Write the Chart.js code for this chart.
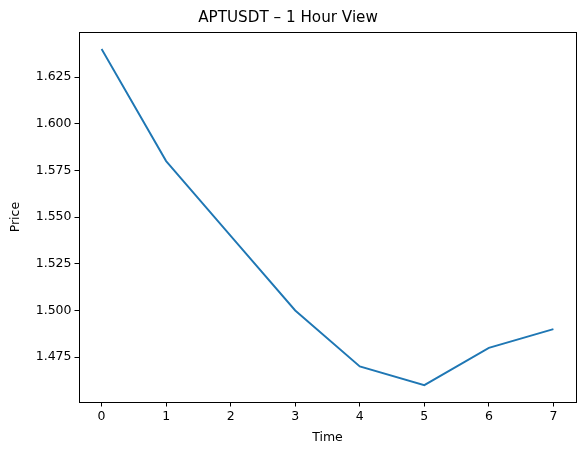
<!DOCTYPE html>
<html>
<head>
<meta charset="utf-8">
<script src="https://cdn.jsdelivr.net/npm/chart.js@4"></script>
<style>
  html, body { margin: 0; padding: 0; background: #fff; }
  #wrap { width: 584px; height: 455px; }
</style>
</head>
<body>
<div id="wrap"><canvas id="priceChart"></canvas></div>
<script>
// data
const timeSteps = [0, 1, 2, 3, 4, 5, 6, 7];
const prices = [1.64, 1.58, 1.54, 1.50, 1.47, 1.46, 1.48, 1.49];
const priceTicks = [1.475, 1.500, 1.525, 1.550, 1.575, 1.600, 1.625];
const timeTicks = [0, 1, 2, 3, 4, 5, 6, 7];

const FONT = 'DejaVu Sans';

// full black frame around the plot area
const frameBox = {
    id: 'frameBox',
    afterDraw(chart) {
        const a = chart.chartArea, ctx = chart.ctx;
        ctx.save();
        ctx.strokeStyle = '#000';
        ctx.lineWidth = 1;
        ctx.strokeRect(Math.round(a.left) + 0.5, Math.round(a.top) + 0.5,
            Math.round(a.right - a.left), Math.round(a.bottom - a.top));
        ctx.restore();
    }
};

const ctx = document.getElementById('priceChart').getContext('2d');
new Chart(ctx, {
    type: 'line',
    data: {
        datasets: [{
            data: timeSteps.map((t, i) => ({ x: t, y: prices[i] })),
            borderColor: '#1f77b4',
            borderWidth: 1.9,
            pointRadius: 0,
            tension: 0,
            fill: false
        }]
    },
    options: {
        responsive: true,
        maintainAspectRatio: false,
        animation: false,
        layout: { padding: { left: 0, right: 8, top: 0, bottom: 0 } },
        plugins: {
            legend: { display: false },
            tooltip: { enabled: false },
            title: {
                display: true,
                text: 'APTUSDT – 1 Hour View',
                color: '#000',
                font: { family: FONT, size: 15.2, weight: 'normal' },
                padding: { top: 9, bottom: 5 }
            }
        },
        scales: {
            x: {
                type: 'linear',
                min: -0.35,
                max: 7.35,
                afterBuildTicks: axis => { axis.ticks = timeTicks.map(v => ({ value: v })); },
                afterFit: axis => { axis.height = 53; },
                ticks: {
                    color: '#000',
                    font: { family: FONT, size: 12.5 },
                    padding: 3,
                    maxRotation: 0
                },
                grid: { drawOnChartArea: false, tickLength: 4.5, color: '#000' },
                border: { display: true, color: '#000' },
                title: {
                    display: true,
                    text: 'Time',
                    color: '#000',
                    font: { family: FONT, size: 12.5 },
                    padding: { top: 0, bottom: 10 }
                }
            },
            y: {
                type: 'linear',
                min: 1.451,
                max: 1.649,
                afterBuildTicks: axis => { axis.ticks = priceTicks.map(v => ({ value: v })); },
                afterFit: axis => { axis.width = 79; },
                ticks: {
                    color: '#000',
                    font: { family: FONT, size: 12.5 },
                    padding: 3,
                    callback: v => v.toFixed(3)
                },
                grid: { drawOnChartArea: false, tickLength: 4.5, color: '#000' },
                border: { display: true, color: '#000' },
                title: {
                    display: true,
                    text: 'Price',
                    color: '#000',
                    font: { family: FONT, size: 12.5 },
                    padding: { top: 8.5, bottom: 0 }
                }
            }
        }
    },
    plugins: [frameBox]
});
</script>
</body>
</html>
